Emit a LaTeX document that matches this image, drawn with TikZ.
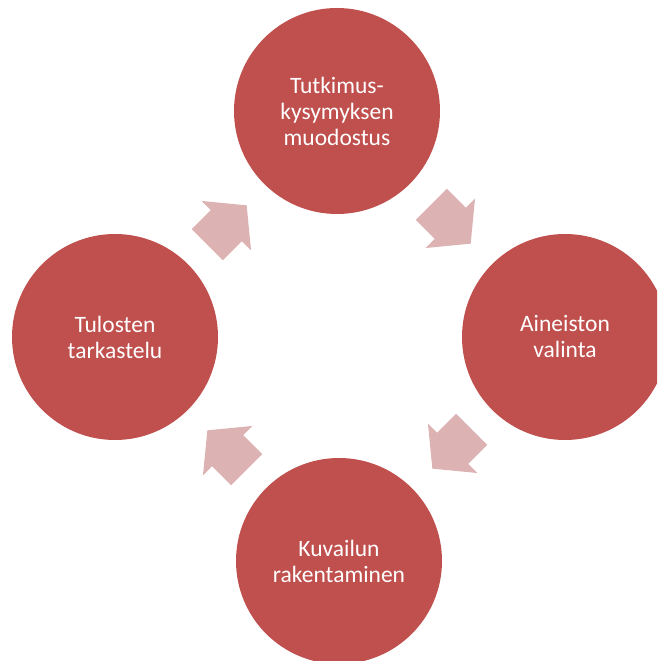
\documentclass[tikz,border=0pt]{standalone}
\usepackage{fontspec}
\setmainfont{Carlito}
\definecolor{circred}{RGB}{192,80,77}
\definecolor{arrowpink}{RGB}{220,178,178}
\tikzset{
  circ/.style={circle, fill=circred, draw=none, minimum size=206pt, inner sep=0pt,
    text=white, align=center, font=\fontsize{23.5}{26}\selectfont},
  blockarrow/.pic={
    \fill[arrowpink] (-27.8,-22) -- (-1,-22) -- (-1,-35) -- (27.8,0) -- (-1,35) -- (-1,22) -- (-27.8,22) -- cycle;
  }
}
\begin{document}
\begin{tikzpicture}[x=1pt,y=1pt]
\useasboundingbox (0,0) rectangle (657,661);
\clip (0,0) rectangle (657,661);
\node[circ] (top) at (337,550) {Tutkimus-\\kysymyksen\\muodostus};
\node[circ] (right) at (565,324) {Aineiston\\valinta};
\node[circ] (bottom) at (339,100) {Kuvailun\\rakentaminen};
\node[circ] (left) at (115,324) {Tulosten\\tarkastelu};
\pic[rotate=45] at (227,436) {blockarrow};
\pic[rotate=-45] at (451,437) {blockarrow};
\pic[rotate=-135] at (452,212) {blockarrow};
\pic[rotate=135] at (227,211) {blockarrow};
\end{tikzpicture}
\end{document}
